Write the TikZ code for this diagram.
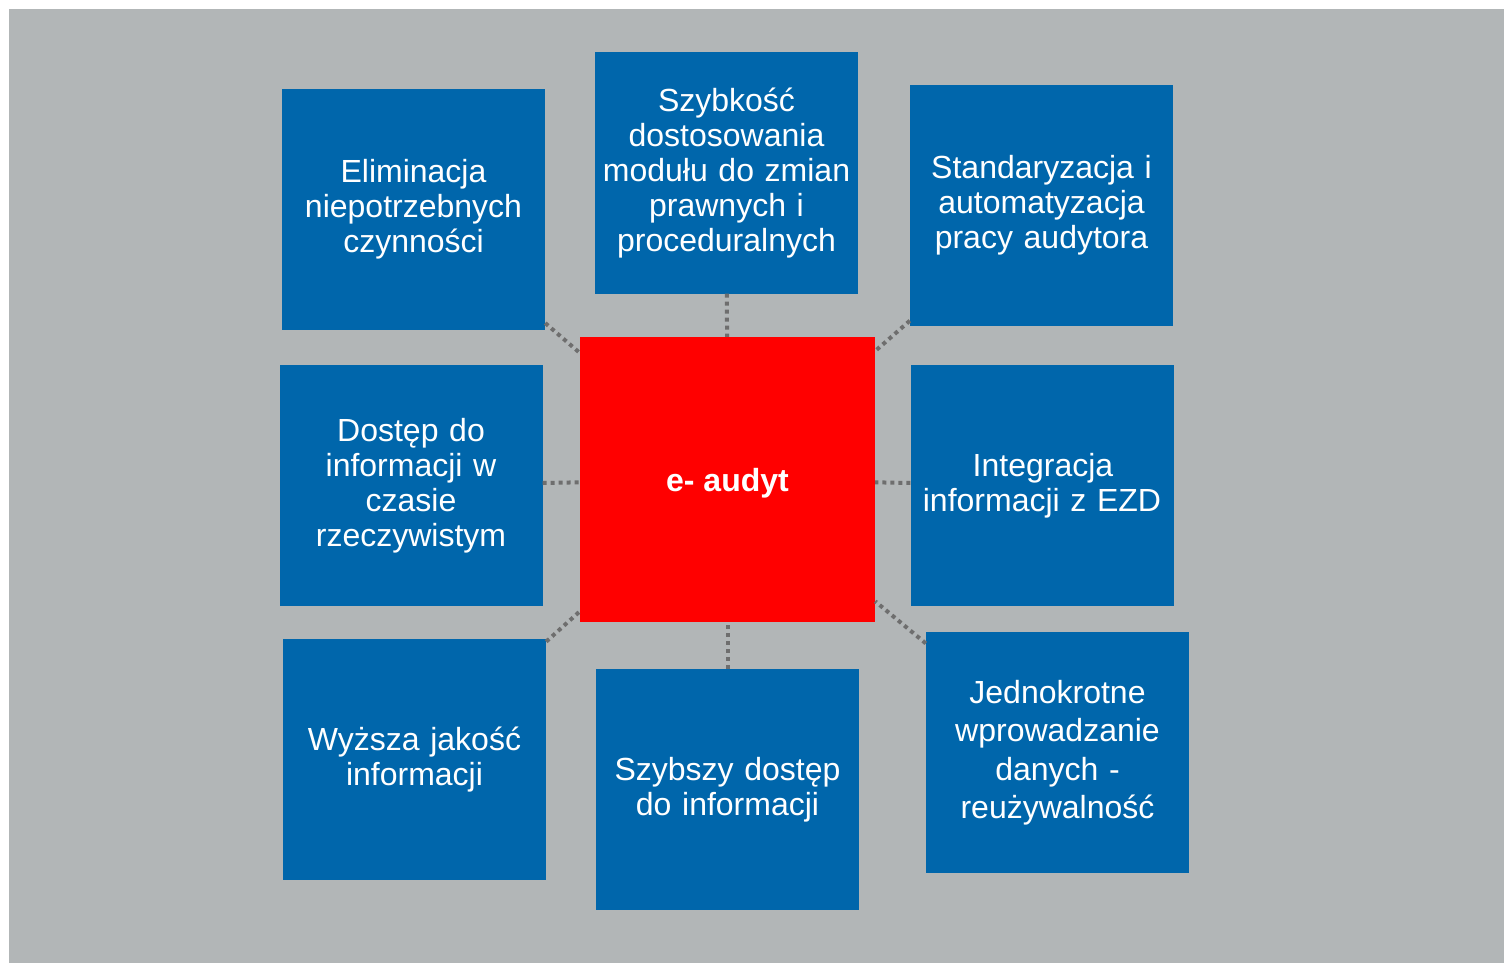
\documentclass[tikz,border=0pt]{standalone}
\usepackage{fontspec}
\setmainfont{Liberation Sans}
\definecolor{bggray}{HTML}{B2B6B7}
\definecolor{boxblue}{HTML}{0066AB}
\definecolor{dotgray}{HTML}{6E6E6E}
\tikzset{
  x=1pt, y=-1pt,
  bluebox/.style={rectangle, fill=boxblue, text=white, minimum width=263pt, minimum height=241pt,
    inner sep=0pt, text width=258pt, align=center, font=\fontsize{32}{35}\selectfont},
  centerbox/.style={rectangle, fill=red, text=white, minimum width=295pt, minimum height=285pt,
    inner sep=0pt, align=center, font=\fontsize{32}{35}\selectfont\bfseries},
  dotline/.style={draw=dotgray, line width=4pt, dash pattern=on 4pt off 4pt}
}
\begin{document}
\begin{tikzpicture}
\useasboundingbox (0,0) rectangle (1504,963);
\fill[bggray] (9,9) rectangle (1504,963);
\node[centerbox, text height=31pt, text depth=6.7pt] (c) at (727.5,479.5) {e- audyt};
\node[bluebox] (tl) at (413.5,209.5) {Eliminacja\\niepotrzebnych\\czynności\\[4pt]};
\node[bluebox] (tm) at (726.5,173) {Szybkość\\dostosowania\\modułu do zmian\\prawnych i\\proceduralnych};
\node[bluebox] (tr) at (1041.5,205.5) {Standaryzacja i\\automatyzacja\\pracy audytora};
\node[bluebox] (ml) at (411,485.5) {Dostęp do\\informacji w\\czasie\\rzeczywistym};
\node[bluebox] (mr) at (1042,485.5) {\hspace*{2pt}Integracja\\informacji z EZD\\[2pt]};
\node[bluebox] (bl) at (414.5,759.5) {Wyższa jakość\\informacji\\[6pt]};
\node[bluebox] (bm) at (727.5,789.5) {Szybszy dostęp\\do informacji};
\node[bluebox, font=\fontsize{32}{38.5}\selectfont] (br) at (1057.5,752.5) {Jednokrotne\\wprowadzanie\\danych -\\reużywalność\\[6pt]};
\draw[dotline] (tl) -- (c);
\draw[dotline] (tm) -- (c);
\draw[dotline] (tr) -- (c);
\draw[dotline] (ml) -- (c);
\draw[dotline] (mr) -- (c);
\draw[dotline] (bl) -- (c);
\draw[dotline] (bm) -- (c);
\draw[dotline] (br) -- (c);
\end{tikzpicture}
\end{document}
